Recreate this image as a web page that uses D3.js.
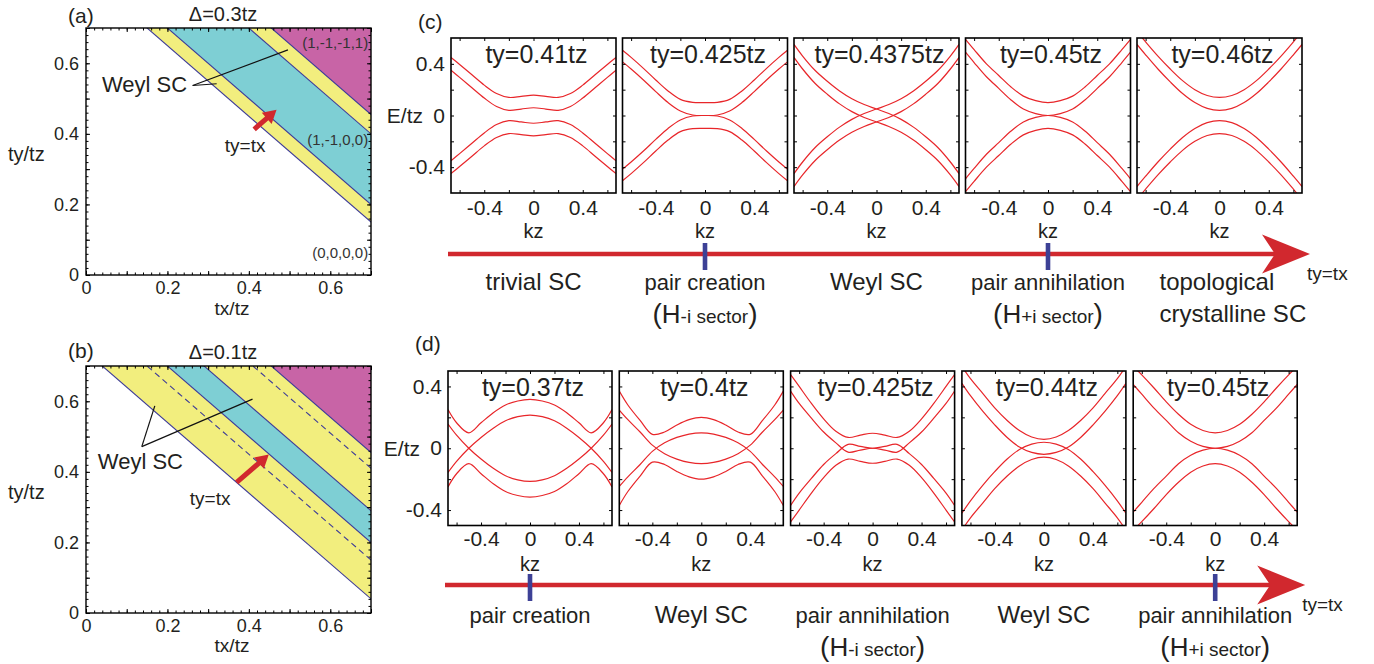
<!DOCTYPE html>
<html>
<head>
<meta charset="utf-8">
<script src="https://cdn.jsdelivr.net/npm/d3@7/dist/d3.min.js"></script>
<style>
  body { margin: 0; background: #fff; }
  svg text { font-family: "Liberation Sans", Arial, Helvetica, sans-serif; fill: #231f20; }
</style>
</head>
<body>
<svg id="fig" width="1374" height="664"></svg>
<script>
// ---------- values ----------
const kz = [-0.67, -0.6, -0.5, -0.4, -0.3, -0.2, -0.1, 0, 0.1, 0.2, 0.3, 0.4, 0.5, 0.6, 0.67];

// (c) Delta = 0.3tz : four bands per panel, E/tz at each kz
const cTitles = ['ty=0.41tz', 'ty=0.425tz', 'ty=0.4375tz', 'ty=0.45tz', 'ty=0.46tz'];
const cBands = [
  [
    [0.45, 0.395, 0.315, 0.235, 0.17, 0.14, 0.148, 0.158, 0.148, 0.14, 0.17, 0.235, 0.315, 0.395, 0.45],
    [0.35, 0.295, 0.215, 0.135, 0.07, 0.04, 0.05, 0.06, 0.05, 0.04, 0.07, 0.135, 0.215, 0.295, 0.35],
    [-0.35, -0.295, -0.215, -0.135, -0.07, -0.04, -0.05, -0.06, -0.05, -0.04, -0.07, -0.135, -0.215, -0.295, -0.35],
    [-0.45, -0.395, -0.315, -0.235, -0.17, -0.14, -0.148, -0.158, -0.148, -0.14, -0.17, -0.235, -0.315, -0.395, -0.45]
  ],
  [
    [0.505, 0.45, 0.365, 0.275, 0.19, 0.125, 0.102, 0.10, 0.102, 0.125, 0.19, 0.275, 0.365, 0.45, 0.505],
    [0.415, 0.36, 0.275, 0.185, 0.10, 0.035, 0.004, 0, 0.004, 0.035, 0.10, 0.185, 0.275, 0.36, 0.415],
    [-0.415, -0.36, -0.275, -0.185, -0.10, -0.035, -0.004, 0, -0.004, -0.035, -0.10, -0.185, -0.275, -0.36, -0.415],
    [-0.505, -0.45, -0.365, -0.275, -0.19, -0.125, -0.102, -0.10, -0.102, -0.125, -0.19, -0.275, -0.365, -0.45, -0.505]
  ],
  [
    [0.55, 0.46, 0.35, 0.265, 0.19, 0.13, 0.085, 0.05, 0.015, -0.03, -0.09, -0.165, -0.25, -0.36, -0.45],
    [0.45, 0.36, 0.25, 0.165, 0.09, 0.03, -0.015, -0.05, -0.085, -0.13, -0.19, -0.265, -0.35, -0.46, -0.55],
    [-0.45, -0.36, -0.25, -0.165, -0.09, -0.03, 0.015, 0.05, 0.085, 0.13, 0.19, 0.265, 0.35, 0.46, 0.55],
    [-0.55, -0.46, -0.35, -0.265, -0.19, -0.13, -0.085, -0.05, -0.015, 0.03, 0.09, 0.165, 0.25, 0.36, 0.45]
  ],
  [
    [0.59, 0.51, 0.40, 0.31, 0.22, 0.15, 0.115, 0.10, 0.115, 0.15, 0.22, 0.31, 0.40, 0.51, 0.59],
    [0.49, 0.41, 0.30, 0.21, 0.12, 0.05, 0.015, 0, 0.015, 0.05, 0.12, 0.21, 0.30, 0.41, 0.49],
    [-0.49, -0.41, -0.30, -0.21, -0.12, -0.05, -0.015, 0, -0.015, -0.05, -0.12, -0.21, -0.30, -0.41, -0.49],
    [-0.59, -0.51, -0.40, -0.31, -0.22, -0.15, -0.115, -0.10, -0.115, -0.15, -0.22, -0.31, -0.40, -0.51, -0.59]
  ],
  [
    [0.65, 0.57, 0.46, 0.36, 0.27, 0.20, 0.155, 0.14, 0.155, 0.20, 0.27, 0.36, 0.46, 0.57, 0.65],
    [0.55, 0.47, 0.36, 0.26, 0.17, 0.10, 0.055, 0.04, 0.055, 0.10, 0.17, 0.26, 0.36, 0.47, 0.55],
    [-0.55, -0.47, -0.36, -0.26, -0.17, -0.10, -0.055, -0.04, -0.055, -0.10, -0.17, -0.26, -0.36, -0.47, -0.55],
    [-0.65, -0.57, -0.46, -0.36, -0.27, -0.20, -0.155, -0.14, -0.155, -0.20, -0.27, -0.36, -0.46, -0.57, -0.65]
  ]
];

// (d) Delta = 0.1tz
const dTitles = ['ty=0.37tz', 'ty=0.4tz', 'ty=0.425tz', 'ty=0.44tz', 'ty=0.45tz'];
const dBands = [
  [
    [0.25, 0.165, 0.10, 0.165, 0.23, 0.28, 0.306, 0.316, 0.306, 0.28, 0.23, 0.165, 0.10, 0.165, 0.25],
    [-0.157, -0.085, 0, 0.07, 0.13, 0.178, 0.205, 0.215, 0.205, 0.178, 0.13, 0.07, 0, -0.085, -0.157],
    [0.157, 0.085, 0, -0.07, -0.13, -0.178, -0.205, -0.215, -0.205, -0.178, -0.13, -0.07, 0, 0.085, 0.157],
    [-0.25, -0.165, -0.10, -0.165, -0.23, -0.28, -0.306, -0.316, -0.306, -0.28, -0.23, -0.165, -0.10, -0.165, -0.25]
  ],
  [
    [0.37, 0.28, 0.18, 0.09, 0.105, 0.15, 0.185, 0.20, 0.185, 0.15, 0.105, 0.09, 0.18, 0.28, 0.37],
    [-0.247, -0.185, -0.105, -0.02, 0.035, 0.07, 0.092, 0.10, 0.092, 0.07, 0.035, -0.02, -0.105, -0.185, -0.247],
    [0.247, 0.185, 0.105, 0.02, -0.035, -0.07, -0.092, -0.10, -0.092, -0.07, -0.035, 0.02, 0.105, 0.185, 0.247],
    [-0.37, -0.28, -0.18, -0.09, -0.105, -0.15, -0.185, -0.20, -0.185, -0.15, -0.105, -0.09, -0.18, -0.28, -0.37]
  ],
  [
    [0.477, 0.40, 0.29, 0.19, 0.11, 0.07, 0.085, 0.097, 0.085, 0.07, 0.11, 0.19, 0.29, 0.40, 0.477],
    [0.37, 0.29, 0.195, 0.105, 0.035, -0.025, -0.012, 0, -0.012, -0.025, 0.035, 0.105, 0.195, 0.29, 0.37],
    [-0.37, -0.29, -0.195, -0.105, -0.035, 0.025, 0.012, 0, 0.012, 0.025, -0.035, -0.105, -0.195, -0.29, -0.37],
    [-0.477, -0.40, -0.29, -0.19, -0.11, -0.07, -0.085, -0.097, -0.085, -0.07, -0.11, -0.19, -0.29, -0.40, -0.477]
  ],
  [
    [0.53, 0.45, 0.355, 0.26, 0.18, 0.115, 0.073, 0.058, 0.073, 0.115, 0.18, 0.26, 0.355, 0.45, 0.53],
    [0.42, 0.34, 0.24, 0.15, 0.07, 0.008, -0.027, -0.039, -0.027, 0.008, 0.07, 0.15, 0.24, 0.34, 0.42],
    [-0.42, -0.34, -0.24, -0.15, -0.07, -0.008, 0.027, 0.039, 0.027, -0.008, -0.07, -0.15, -0.24, -0.34, -0.42],
    [-0.53, -0.45, -0.355, -0.26, -0.18, -0.115, -0.073, -0.058, -0.073, -0.115, -0.18, -0.26, -0.355, -0.45, -0.53]
  ],
  [
    [0.53, 0.475, 0.39, 0.30, 0.22, 0.155, 0.115, 0.10, 0.115, 0.155, 0.22, 0.30, 0.39, 0.475, 0.53],
    [0.413, 0.35, 0.26, 0.18, 0.10, 0.045, 0.012, 0, 0.012, 0.045, 0.10, 0.18, 0.26, 0.35, 0.413],
    [-0.413, -0.35, -0.26, -0.18, -0.10, -0.045, -0.012, 0, -0.012, -0.045, -0.10, -0.18, -0.26, -0.35, -0.413],
    [-0.53, -0.475, -0.39, -0.30, -0.22, -0.155, -0.115, -0.10, -0.115, -0.155, -0.22, -0.30, -0.39, -0.475, -0.53]
  ]
];

// phase boundaries, as tx+ty = const
const phaseSumsA = [0.85, 0.9, 1.1, 1.155];
const phaseSumsB = [0.74, 0.9, 0.99, 1.155];
const dashedSumsB = [0.85, 1.11];
const phaseTicks = [0, 0.2, 0.4, 0.6];

// labels along the ty=tx arrows
const cPhases = ['trivial SC', 'pair creation', 'Weyl SC', 'pair annihilation', 'topological|crystalline SC'];
const cSectors = [null, '-i', null, '+i', null];
const cCritical = [1, 3];
const dPhases = ['pair creation', 'Weyl SC', 'pair annihilation', 'Weyl SC', 'pair annihilation'];
const dSectors = [null, null, '-i', null, '+i'];
const dCritical = [0, 4];

// ---------- drawing ----------
const svg = d3.select('#fig');
const YEL = '#f2ee7e', CYA = '#7ecfd4', MAG = '#c864a6', LINE = '#3c3a98';
const RED = '#e8262a', ARROW = '#d1282e', TICK = '#3d4196';

function noDomain(sel) { sel.select('.domain').remove(); }

function fatArrow(g, x0, y0, x1, y1, shaft, headL, headW) {
  const L = Math.hypot(x1 - x0, y1 - y0);
  const ux = (x1 - x0) / L, uy = (y1 - y0) / L, nx = -uy, ny = ux;
  const bx = x1 - ux * headL, by = y1 - uy * headL;
  const pts = [
    [x0 + nx * shaft / 2, y0 + ny * shaft / 2],
    [bx + nx * shaft / 2, by + ny * shaft / 2],
    [bx + nx * headW / 2, by + ny * headW / 2],
    [x1, y1],
    [bx - nx * headW / 2, by - ny * headW / 2],
    [bx - nx * shaft / 2, by - ny * shaft / 2],
    [x0 - nx * shaft / 2, y0 - ny * shaft / 2]
  ];
  g.append('polygon').attr('points', pts.map(p => p.join(',')).join(' ')).attr('fill', ARROW);
}

function phasePanel(cfg) {
  const x = d3.scaleLinear().domain([0, 0.7]).range([86, 371]);
  const y = d3.scaleLinear().domain([0, 0.7]).range([cfg.bottom, cfg.bottom - 247]);
  const g = svg.append('g');

  g.append('clipPath').attr('id', 'clip-' + cfg.id).append('rect')
    .attr('x', x(0)).attr('y', y(0.7)).attr('width', x(0.7) - x(0)).attr('height', y(0) - y(0.7));
  const area = g.append('g').attr('clip-path', `url(#clip-${cfg.id})`);

  // stripes between successive boundaries tx+ty = s
  const edges = [-2].concat(cfg.sums).concat([4]);
  const band = (s1, s2) => [[-1, s1 + 1], [s1 + 1, -1], [s2 + 1, -1], [-1, s2 + 1]]
    .map(p => [x(p[0]), y(p[1])].join(',')).join(' ');
  cfg.fills.forEach((f, i) => {
    if (f) area.append('polygon').attr('points', band(edges[i], edges[i + 1])).attr('fill', f);
  });
  const boundary = (s, dashed) => area.append('line')
    .attr('x1', x(-1)).attr('y1', y(s + 1)).attr('x2', x(s + 1)).attr('y2', y(-1))
    .attr('stroke', LINE).attr('stroke-width', 1.1)
    .attr('stroke-dasharray', dashed ? '6,4' : null);
  cfg.sums.forEach(s => boundary(s, false));
  (cfg.dashed || []).forEach(s => boundary(s, true));

  // ticks on all four sides, inward
  const minor = d3.range(0, 0.7001, 0.02);
  const major = d3.range(0, 0.7001, 0.1);
  const fmt = d => phaseTicks.some(t => Math.abs(t - d) < 1e-6) ? (d === 0 ? '0' : d.toFixed(1)) : '';
  [[d3.axisBottom, `translate(0,${y(0)})`, x], [d3.axisTop, `translate(0,${y(0.7)})`, x],
   [d3.axisLeft, `translate(${x(0)},0)`, y], [d3.axisRight, `translate(${x(0.7)},0)`, y]]
    .forEach(([ax, tr, sc], i) => {
      g.append('g').attr('transform', tr)
        .call(ax(sc).tickValues(minor).tickSize(-2.5).tickFormat('')).call(noDomain);
      const a = g.append('g').attr('transform', tr)
        .call(ax(sc).tickValues(major).tickSize(-4).tickPadding(i === 0 ? 6 : 7).tickFormat(i === 0 || i === 2 ? fmt : ''))
        .call(noDomain);
      a.attr('font-size', 18);
    });

  g.append('rect').attr('x', x(0)).attr('y', y(0.7)).attr('width', x(0.7) - x(0))
    .attr('height', y(0) - y(0.7)).attr('fill', 'none').attr('stroke', '#000').attr('stroke-width', 1.4);

  // labels
  g.append('text').attr('x', 68).attr('y', cfg.tagY).attr('font-size', 21).text(cfg.tag);
  g.append('text').attr('x', 223).attr('y', y(0.7) - 7).attr('font-size', 20)
    .attr('text-anchor', 'middle').text(cfg.title);
  g.append('text').attr('x', 8).attr('y', y(0.323)).attr('font-size', 20).text('ty/tz');
  g.append('text').attr('x', 232).attr('y', y(0) + cfg.xLabelDy).attr('font-size', 19)
    .attr('text-anchor', 'middle').text('tx/tz');

  // arrow along ty = tx
  fatArrow(g, x(cfg.arrow[0]), y(cfg.arrow[0]), x(cfg.arrow[1]), y(cfg.arrow[1]), 5, 13, 15);
  g.append('text').attr('x', x(cfg.tyTx[0])).attr('y', y(cfg.tyTx[1])).attr('font-size', 19).text('ty=tx');

  // Weyl SC with leader lines
  g.append('text').attr('x', x(cfg.weyl[0])).attr('y', y(cfg.weyl[1])).attr('font-size', 22).text('Weyl SC');
  cfg.leaders.forEach(p => g.append('line')
    .attr('x1', x(cfg.leadFrom[0])).attr('y1', y(cfg.leadFrom[1]))
    .attr('x2', x(p[0])).attr('y2', y(p[1])).attr('stroke', '#111').attr('stroke-width', 1.2));

  (cfg.indices || []).forEach(d => g.append('text').attr('x', x(0.693)).attr('y', y(d[1]))
    .attr('font-size', 15).attr('text-anchor', 'end').style('fill', '#333').text(d[0]));
}

phasePanel({
  id: 'a', bottom: 275, tag: '(a)', tagY: 23, title: 'Δ=0.3tz', xLabelDy: 40,
  sums: phaseSumsA, fills: [null, YEL, CYA, YEL, MAG],
  arrow: [0.413, 0.468], tyTx: [0.341, 0.348],
  weyl: [0.039, 0.518], leadFrom: [0.262, 0.537], leaders: [[0.321, 0.542], [0.496, 0.638]],
  indices: [['(1,-1,-1,1)', 0.642], ['(1,-1,0,0)', 0.368], ['(0,0,0,0)', 0.048]]
});
phasePanel({
  id: 'b', bottom: 613, tag: '(b)', tagY: 358, title: 'Δ=0.1tz', xLabelDy: 39,
  sums: phaseSumsB, dashed: dashedSumsB, fills: [null, YEL, CYA, YEL, MAG],
  arrow: [0.37, 0.449], tyTx: [0.255, 0.307],
  weyl: [0.029, 0.407], leadFrom: [0.137, 0.4715], leaders: [[0.169, 0.587], [0.409, 0.606]]
});

// band-structure rows
function bandRow(cfg) {
  const xt = [-0.6, -0.4, -0.2, 0, 0.2, 0.4, 0.6];
  const yt = [-0.4, -0.2, 0, 0.2, 0.4];
  const shown = [-0.4, 0, 0.4];
  const fmt = d => shown.includes(d) ? (d === 0 ? '0' : (d < 0 ? '-' : '') + Math.abs(d).toFixed(1)) : '';
  const centers = [];

  cfg.titles.forEach((title, i) => {
    const left = cfg.left + i * cfg.step;
    const x = d3.scaleLinear().domain([-0.67, 0.67]).range([left, left + cfg.w]);
    const y = d3.scaleLinear().domain([-cfg.eMax, cfg.eMax]).range([cfg.top + cfg.h, cfg.top]);
    centers.push(x(0));
    const g = svg.append('g');
    const cid = `clip-${cfg.id}${i}`;
    g.append('clipPath').attr('id', cid).append('rect')
      .attr('x', left).attr('y', cfg.top).attr('width', cfg.w).attr('height', cfg.h);

    const line = d3.line().x((d, j) => x(kz[j])).y(d => y(d)).curve(d3.curveCatmullRom.alpha(0.5));
    g.append('g').attr('clip-path', `url(#${cid})`).selectAll('path')
      .data(cfg.bands[i]).join('path')
      .attr('d', line).attr('fill', 'none').attr('stroke', RED).attr('stroke-width', 1.2);

    const bx = g.append('g').attr('transform', `translate(0,${cfg.top + cfg.h})`)
      .call(d3.axisBottom(x).tickValues(xt).tickSize(-3).tickPadding(cfg.xPad).tickFormat(fmt)).call(noDomain);
    bx.attr('font-size', 21);
    g.append('g').attr('transform', `translate(0,${cfg.top})`)
      .call(d3.axisTop(x).tickValues(xt).tickSize(-3).tickFormat('')).call(noDomain);
    const ly = g.append('g').attr('transform', `translate(${left},0)`)
      .call(d3.axisLeft(y).tickValues(yt).tickSize(-3).tickPadding(6).tickFormat(i === 0 ? fmt : '')).call(noDomain);
    ly.attr('font-size', 21);
    g.append('g').attr('transform', `translate(${left + cfg.w},0)`)
      .call(d3.axisRight(y).tickValues(yt).tickSize(-3).tickFormat('')).call(noDomain);

    g.append('rect').attr('x', left).attr('y', cfg.top).attr('width', cfg.w).attr('height', cfg.h)
      .attr('fill', 'none').attr('stroke', '#000').attr('stroke-width', 1.6);

    g.append('text').attr('x', x(0) + 3).attr('y', cfg.top + 25).attr('font-size', 25)
      .attr('text-anchor', 'middle').text(title);
    g.append('text').attr('x', x(0)).attr('y', cfg.kzY).attr('font-size', 20)
      .attr('text-anchor', 'middle').text('kz');
    if (i === 0) {
      g.append('text').attr('x', left - 28).attr('y', y(0)).attr('dy', '0.36em').attr('font-size', 21)
        .attr('text-anchor', 'end').text('E/tz');
      g.append('text').attr('x', left - 33).attr('y', cfg.tagY).attr('font-size', 21).text(cfg.tag);
    }
  });

  // ty = tx arrow
  const ay = cfg.arrowY, x0 = cfg.left - 3, tip = cfg.left + 4 * cfg.step + cfg.w + 8;
  svg.append('line').attr('x1', x0).attr('y1', ay).attr('x2', tip - 34).attr('y2', ay)
    .attr('stroke', ARROW).attr('stroke-width', 4.5);
  svg.append('polygon').attr('points', [[tip, ay], [tip - 48, ay - 19.5], [tip - 35, ay], [tip - 48, ay + 19.5]]
    .map(p => p.join(',')).join(' ')).attr('fill', ARROW);
  svg.append('text').attr('x', tip - 3).attr('y', ay + 26).attr('font-size', 19).text('ty=tx');
  cfg.critical.forEach(i => svg.append('rect').attr('x', centers[i] - 2.3).attr('y', ay - 11)
    .attr('width', 4.6).attr('height', 27).attr('fill', TICK));

  // phase names under the arrow
  cfg.phases.forEach((p, i) => {
    const cx = centers[i];
    if (p.includes('|')) {
      const [l1, l2] = p.split('|');
      svg.append('text').attr('x', cx - 60).attr('y', cfg.labelY).attr('font-size', 24).text(l1);
      svg.append('text').attr('x', cx - 60).attr('y', cfg.labelY + 32).attr('font-size', 24).text(l2);
      return;
    }
    const small = p.startsWith('pair');
    svg.append('text').attr('x', cx).attr('y', cfg.labelY).attr('font-size', small ? 22 : 24)
      .attr('text-anchor', 'middle').text(p);
    const s = cfg.sectors[i];
    if (s) {
      const t = svg.append('text').attr('x', cx).attr('y', cfg.labelY + 33).attr('text-anchor', 'middle');
      t.append('tspan').attr('font-size', 28).text('(');
      t.append('tspan').attr('font-size', 26).text('H');
      t.append('tspan').attr('font-size', 19).text(s + ' sector');
      t.append('tspan').attr('font-size', 28).text(')');
    }
  });
}

bandRow({
  id: 'c', tag: '(c)', tagY: 29, titles: cTitles, bands: cBands, left: 451, step: 171.5, w: 165,
  top: 38, h: 155, eMax: 0.6, xPad: 7, kzY: 238, arrowY: 254, labelY: 290,
  phases: cPhases, sectors: cSectors, critical: cCritical
});
bandRow({
  id: 'd', tag: '(d)', tagY: 351, titles: dTitles, bands: dBands, left: 448, step: 171.3, w: 164,
  top: 371, h: 154.5, eMax: 0.5, xPad: 6, kzY: 571, arrowY: 585, labelY: 623,
  phases: dPhases, sectors: dSectors, critical: dCritical
});
</script>
</body>
</html>
